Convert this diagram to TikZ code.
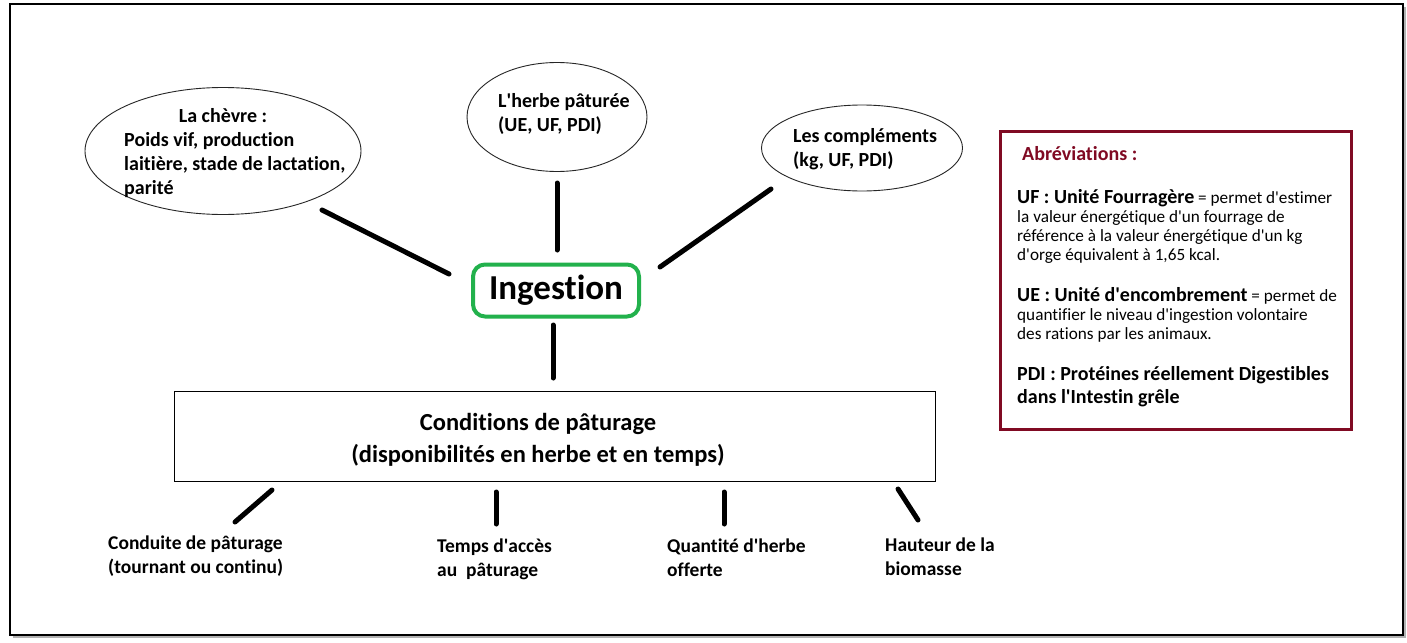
\documentclass[tikz,border=0pt]{standalone}
\usepackage{fontspec}
\setmainfont{Carlito}[Ligatures={NoCommon}]
\usetikzlibrary{shapes.geometric}
\definecolor{ingreen}{RGB}{34,177,76}
\definecolor{abbred}{RGB}{128,10,35}
\newcommand{\ap}{\textquotesingle}
\tikzset{
  bubble/.style={draw=black!85, line width=0.9pt, ellipse, inner sep=0pt},
  btxt/.style={font=\bfseries\fontsize{20}{24}\selectfont, inner sep=0pt, align=left, anchor=north west},
  link/.style={line width=5pt, line cap=round},
  lowtxt/.style={font=\bfseries\fontsize{19.5}{24}\selectfont, inner sep=0pt, align=left, anchor=north west},
  abtxt/.style={inner sep=0pt, align=left, anchor=north west},
}
\begin{document}
\begin{tikzpicture}[x=1pt,y=-1pt]
\useasboundingbox (0,0) rectangle (1407,642);
\fill[white] (0,0) rectangle (1407,642);
% outer frame with shadow
\draw[gray!60, line width=2pt] (13,637) -- (1405,637) -- (1405,7);
\draw[black, line width=2pt] (10,4) rectangle (1403,635);

% ellipses
\node[bubble, minimum width=276pt, minimum height=127pt] (chevre) at (223,151) {};
\node[bubble, minimum width=180pt, minimum height=109pt] (herbe) at (557,117) {};
\node[bubble, minimum width=201pt, minimum height=86pt] (compl) at (862,148) {};

\node[btxt, anchor=north] (tchevre) at (223,108) {La chèvre :};
\node[btxt] (tchevre2) at (124,132.5) {Poids vif, production\\laitière, stade de lactation,\\parité};
\node[btxt] (therbe) at (498,93) {L\ap herbe pâturée\\(UE, UF, PDI)};
\node[btxt] (tcompl) at (793,128) {Les compléments\\(kg, UF, PDI)};

% ingestion
\node[draw=ingreen, line width=4pt, rounded corners=12pt, minimum width=166pt, minimum height=52pt,
      font=\bfseries\fontsize{35}{40}\selectfont, inner sep=0pt] (ing) at (556,290.5) {Ingestion};

% conditions box
\node[draw, line width=1pt, minimum width=761pt, minimum height=90pt, inner sep=0pt] (cond) at (554.5,436) {};
\node[font=\bfseries\fontsize{24.5}{32}\selectfont, align=center, inner sep=0pt] (tcond) at (538,440)
  {Conditions de pâturage\\(disponibilités en herbe et en temps)};

% connectors
\coordinate (a1) at (322,210); \coordinate (a2) at (449,274);
\coordinate (b1) at (557,183); \coordinate (b2) at (557,250);
\coordinate (c1) at (771,189); \coordinate (c2) at (660,267);
\coordinate (d1) at (553,325); \coordinate (d2) at (553,378);
\draw[link] (a1) -- (a2);
\draw[link] (b1) -- (b2);
\draw[link] (c1) -- (c2);
\draw[link] (d1) -- (d2);

\coordinate (e1) at (272,490); \coordinate (e2) at (235,522);
\coordinate (f1) at (496,492); \coordinate (f2) at (496,524);
\coordinate (g1) at (724,492); \coordinate (g2) at (724,524);
\coordinate (h1) at (898,489); \coordinate (h2) at (918,520);
\draw[link] (e1) -- (e2);
\draw[link] (f1) -- (f2);
\draw[link] (g1) -- (g2);
\draw[link] (h1) -- (h2);

% bottom labels
\node[lowtxt] (l1) at (108,536) {Conduite de pâturage\\(tournant ou continu)};
\node[lowtxt] (l2) at (437,539) {Temps d\ap accès\\au\ \ pâturage};
\node[lowtxt] (l3) at (667,539) {Quantité d\ap herbe\\offerte};
\node[lowtxt] (l4) at (885,538) {Hauteur de la\\biomasse};

% abbreviations box
\node[draw=abbred, line width=3pt, minimum width=351pt, minimum height=298pt, inner sep=0pt] (abbr) at (1175.5,280) {};
\node[abtxt, text=abbred, font=\bfseries\fontsize{20}{24}\selectfont] (abt) at (1022,146.5) {Abréviations :};
\node[abtxt, font=\fontsize{17.2}{19}\selectfont] (uf) at (1017,189.5)
  {{\bfseries\fontsize{20}{19}\selectfont UF : Unité Fourragère} = permet d\ap estimer\\
   la valeur énergétique d\ap un fourrage de\\
   référence à la valeur énergétique d\ap un kg\\
   d\ap orge équivalent à 1,65 kcal.};
\node[abtxt, font=\fontsize{17.2}{19}\selectfont] (ue) at (1017,287.5)
  {{\bfseries\fontsize{20}{19}\selectfont UE : Unité d\ap encombrement} = permet de\\
   quantifier le niveau d\ap ingestion volontaire\\
   des rations par les animaux.};
\node[abtxt, font=\bfseries\fontsize{20}{22.5}\selectfont] (pdi) at (1017,366.5)
  {PDI : Protéines réellement Digestibles\\dans l\ap Intestin grêle};
\end{tikzpicture}
\end{document}
